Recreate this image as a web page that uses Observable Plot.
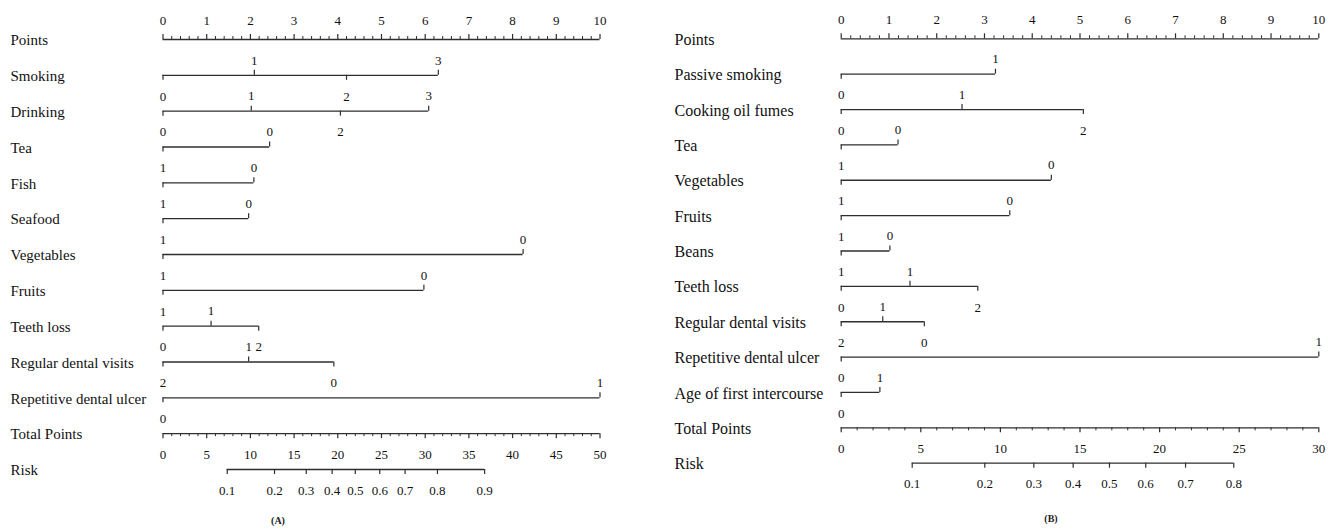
<!DOCTYPE html>
<html><head><meta charset="utf-8">
<script src="https://cdn.jsdelivr.net/npm/d3@7"></script>
<script src="https://cdn.jsdelivr.net/npm/@observablehq/plot@0.6"></script>
<style>
body{margin:0;background:#fff;}
#wrap{position:relative;width:1336px;height:530px;overflow:hidden;}
.panel{position:absolute;top:0;}
.panel text{font-family:"Liberation Serif","Times New Roman",serif;}
.cap{position:absolute;font:bold 10px "Liberation Serif","Times New Roman",serif;color:#222;transform:translate(-50%,-50%);}
</style></head><body><div id="wrap"></div>
<script>
// ---------- Panel A data ----------
const namesA = ["Smoking","Drinking","Tea","Fish","Seafood","Vegetables","Fruits","Teeth loss","Regular dental visits","Repetitive dental ulcer"];
const levelsA = [["0","1","2","3"],["0","1","2","3"],["1","0"],["1","0"],["1","0"],["1","0"],["1","0"],["0","1","2"],["2","1","0"],["0","1"]];
const pointsA = [[0,2.09,4.2,6.3],[0,2.02,4.06,6.08],[0,2.44],[0,2.08],[0,1.96],[0,8.24],[0,5.97],[0,1.1,2.19],[0,1.96,3.91],[0,10]];
const totalMaxA = 50;
const riskTicksA = ["0.1","0.2","0.3","0.4","0.5","0.6","0.7","0.8","0.9"];
const riskTotalA = [7.35,12.76,16.39,19.35,22.0,24.8,27.7,31.4,36.8];

// ---------- Panel B data ----------
const namesB = ["Passive smoking","Cooking oil fumes","Tea","Vegetables","Fruits","Beans","Teeth loss","Regular dental visits","Repetitive dental ulcer","Age of first intercourse"];
const levelsB = [["0","1"],["0","1","2"],["1","0"],["1","0"],["1","0"],["1","0"],["0","1","2"],["2","1","0"],["0","1"],["0","1"]];
const pointsB = [[0,3.23],[0,2.53,5.07],[0,1.19],[0,4.4],[0,3.53],[0,1.02],[0,1.44,2.86],[0,0.87,1.74],[0,10],[0,0.81]];
const totalMaxB = 30;
const riskTicksB = ["0.1","0.2","0.3","0.4","0.5","0.6","0.7","0.8"];
const riskTotalB = [4.46,9.02,12.10,14.57,16.85,19.13,21.63,24.66];

const pointTicks = d3.range(0, 11);
const FONT = "Liberation Serif, Times New Roman, serif";
const INK = "#2e2e2e";
const TXT = "#111";

function panel(cfg) {
  const {names, levels, pts, totalMax, riskLabels, riskTotal, yRange, xRange, width, labelDx, nameSize, tickSize} = cfg;
  const nRows = names.length + 3;           // Points + vars + Total + Risk
  const rowPx = (yRange[1] - yRange[0]) / (nRows - 1);
  const L = 5 / rowPx, Ls = 3 / rowPx;       // tick lengths in row units
  const rowNames = ["Points", ...names, "Total Points", "Risk"];
  const totalRow = names.length + 1, riskRow = names.length + 2;
  const toPts = t => t * 10 / totalMax;

  const lv = [];
  levels.forEach((labs, r) => labs.forEach((lab, j) => lv.push({row: r + 1, x: pts[r][j], lab, below: j % 2 === 0})));
  const lines = names.map((n, r) => ({row: r + 1, max: d3.max(pts[r])}));
  const minorPts = d3.range(0, 50).map(i => i * 0.2).filter(v => Math.abs(v - Math.round(v)) > 1e-6);
  const totAll = d3.range(0, totalMax + 1);
  const totMajor = totAll.filter(v => v % 5 === 0);
  const totMinor = totAll.filter(v => v % 5 !== 0);
  const risk = riskLabels.map((lab, i) => ({lab, t: riskTotal[i]}));
  const tx = {fontSize: tickSize, fontFamily: FONT, fill: TXT};

  return Plot.plot({
    width, height: 508,
    marginLeft: 0, marginRight: 0, marginTop: 0, marginBottom: 0,
    x: {domain: [0, 10], range: xRange, axis: null},
    y: {domain: [0, nRows - 1], range: yRange, axis: null},
    style: {fontFamily: FONT, background: "white"},
    marks: [
      // row names
      Plot.text(rowNames, {y: (d, i) => i, text: d => d, frameAnchor: "left", textAnchor: "start", dx: labelDx, dy: 1, fontSize: nameSize, fontFamily: FONT, fill: TXT}),
      // Points axis
      Plot.ruleY([0], {y: 0, x1: 0, x2: 10, stroke: INK, strokeWidth: 1.3}),
      Plot.ruleX(pointTicks, {x: d => d, y1: 0, y2: -L, stroke: INK, strokeWidth: 1.2}),
      Plot.ruleX(minorPts, {x: d => d, y1: 0, y2: -Ls, stroke: INK, strokeWidth: 1}),
      Plot.text(pointTicks, {x: d => d, y: 0, dy: -19, text: d => String(d), ...tx}),
      // variable lines
      Plot.ruleY(lines, {y: "row", x1: 0, x2: "max", stroke: INK, strokeWidth: 1.3}),
      Plot.ruleX(lv, {x: "x", y1: "row", y2: d => d.row + (d.below ? L : -L), stroke: INK, strokeWidth: 1.2}),
      Plot.text(lv.filter(d => !d.below), {x: "x", y: "row", dy: -15, text: "lab", ...tx}),
      Plot.text(lv.filter(d => d.below), {x: "x", y: "row", dy: 21, text: "lab", ...tx}),
      // Total points axis
      Plot.ruleY([0], {y: totalRow, x1: 0, x2: 10, stroke: INK, strokeWidth: 1.3}),
      Plot.ruleX(totMajor, {x: d => toPts(d), y1: totalRow, y2: totalRow + L, stroke: INK, strokeWidth: 1.2}),
      Plot.ruleX(totMinor, {x: d => toPts(d), y1: totalRow, y2: totalRow + Ls, stroke: INK, strokeWidth: 1}),
      Plot.text(totMajor, {x: d => toPts(d), y: totalRow, dy: 21, text: d => String(d), ...tx}),
      // Risk axis
      Plot.ruleY([0], {y: riskRow, x1: toPts(riskTotal[0]), x2: toPts(riskTotal[riskTotal.length - 1]), stroke: INK, strokeWidth: 1.3}),
      Plot.ruleX(risk, {x: d => toPts(d.t), y1: riskRow, y2: riskRow + L, stroke: INK, strokeWidth: 1.2}),
      Plot.text(risk, {x: d => toPts(d.t), y: riskRow, dy: 21, text: "lab", ...tx})
    ]
  });
}

const wrap = document.getElementById("wrap");
const a = panel({names: namesA, levels: levelsA, pts: pointsA, totalMax: totalMaxA, riskLabels: riskTicksA, riskTotal: riskTotalA,
  yRange: [39, 469], xRange: [162.5, 599.5], width: 668, labelDx: 10, nameSize: 15, tickSize: 13});
a.classList.add("panel"); a.style.left = "0px";
wrap.appendChild(a);
const b = panel({names: namesB, levels: levelsB, pts: pointsB, totalMax: totalMaxB, riskLabels: riskTicksB, riskTotal: riskTotalB,
  yRange: [38.3, 462.7], xRange: [170.7, 648.3], width: 666, labelDx: 4, nameSize: 16, tickSize: 13});
b.classList.add("panel"); b.style.left = "670px";
wrap.appendChild(b);

const capA = document.createElement("div"); capA.className = "cap"; capA.textContent = "(A)"; capA.style.left = "278px"; capA.style.top = "520px";
const capB = document.createElement("div"); capB.className = "cap"; capB.textContent = "(B)"; capB.style.left = "1051px"; capB.style.top = "518px";
wrap.appendChild(capA); wrap.appendChild(capB);
</script></body></html>
